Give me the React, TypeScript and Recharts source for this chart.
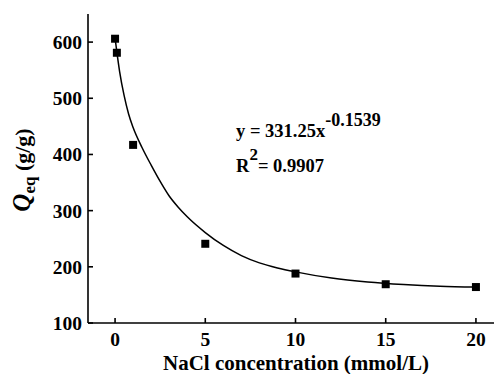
import { ComposedChart, Scatter, Line, XAxis, YAxis } from 'recharts';

// measured points
const concentration = [0, 0.1, 1, 5, 10, 15, 20];
const qeq = [606, 581, 417, 241, 188, 169, 164];

// fitted curve
const fitX = [0, 0.1, 0.25, 0.5, 0.75, 1, 1.5, 2, 2.5, 3, 3.5, 4, 5, 6, 7, 8, 9, 10, 12, 14, 16, 18, 20];
const fitY = [607, 582, 548, 505, 472, 448, 412, 381, 352, 326, 306, 289, 261, 238, 220, 207, 198, 191, 180, 173, 168.5, 165.5, 164];

const xTicks = [0, 5, 10, 15, 20];
const yTicks = [100, 200, 300, 400, 500, 600];

const points = concentration.map((x, i) => ({ x, y: qeq[i] }));
const curve = fitX.map((x, i) => ({ x, y: fitY[i] }));

const font = '"Liberation Serif", "Times New Roman", serif';
const tickStyle = { fontFamily: font, fontWeight: 700, fontSize: 19.5, fill: '#000' };
const axisLine = { stroke: '#000', strokeWidth: 1.6 };

export default function App() {
  return (
    <div style={{ position: 'absolute', left: 0, top: 0, width: 494, height: 374, overflow: 'hidden', background: '#fff' }}>
      <ComposedChart width={520} height={374} margin={{ top: 14, right: 17, bottom: 11, left: 8 }}>
        <XAxis
          dataKey="x"
          type="number"
          domain={[-1.5, 21.5]}
          ticks={xTicks}
          allowDataOverflow
          height={40}
          tickSize={-5}
          tickMargin={14}
          tick={tickStyle}
          tickLine={axisLine}
          axisLine={axisLine}
        />
        <XAxis
          xAxisId="top"
          orientation="top"
          type="number"
          domain={[-1.5, 21.5]}
          height={0}
          tick={false}
          tickLine={false}
          axisLine={axisLine}
        />
        <YAxis
          type="number"
          domain={[100, 650]}
          ticks={yTicks}
          allowDataOverflow
          width={80}
          tickSize={-5}
          tickMargin={11}
          tick={tickStyle}
          tickLine={axisLine}
          axisLine={axisLine}
        />
        <YAxis yAxisId="right" orientation="right" width={0} tick={false} tickLine={false} axisLine={axisLine} />
        <Line
          data={curve}
          dataKey="y"
          type="monotone"
          stroke="#000"
          strokeWidth={1.5}
          dot={false}
          activeDot={false}
          isAnimationActive={false}
        />
        <Scatter data={points} dataKey="y" shape="square" fill="#000" isAnimationActive={false} />
        <text x={236} y={137} style={{ fontFamily: font, fontWeight: 700, fontSize: 18.5 }} fill="#000">
          y = 331.25x
          <tspan dy={-11} fontSize={18}>-0.1539</tspan>
        </text>
        <text x={236} y={172} style={{ fontFamily: font, fontWeight: 700, fontSize: 18.5 }} fill="#000">
          R<tspan dy={-12} fontSize={17}>2</tspan>
          <tspan dy={12}>= 0.9907</tspan>
        </text>
        <text
          x={30}
          y={170}
          transform="rotate(-90 30 170)"
          textAnchor="middle"
          style={{ fontFamily: font, fontWeight: 700, fontSize: 22 }}
          fill="#000"
        >
          <tspan fontStyle="italic" fontSize={25}>Q</tspan>
          <tspan fontSize={17} dy={5}>eq</tspan>
          <tspan dy={-5}> (g/g)</tspan>
        </text>
        <text
          x={296}
          y={370}
          textAnchor="middle"
          style={{ fontFamily: font, fontWeight: 700, fontSize: 21 }}
          fill="#000"
        >
          NaCl concentration (mmol/L)
        </text>
      </ComposedChart>
    </div>
  );
}
